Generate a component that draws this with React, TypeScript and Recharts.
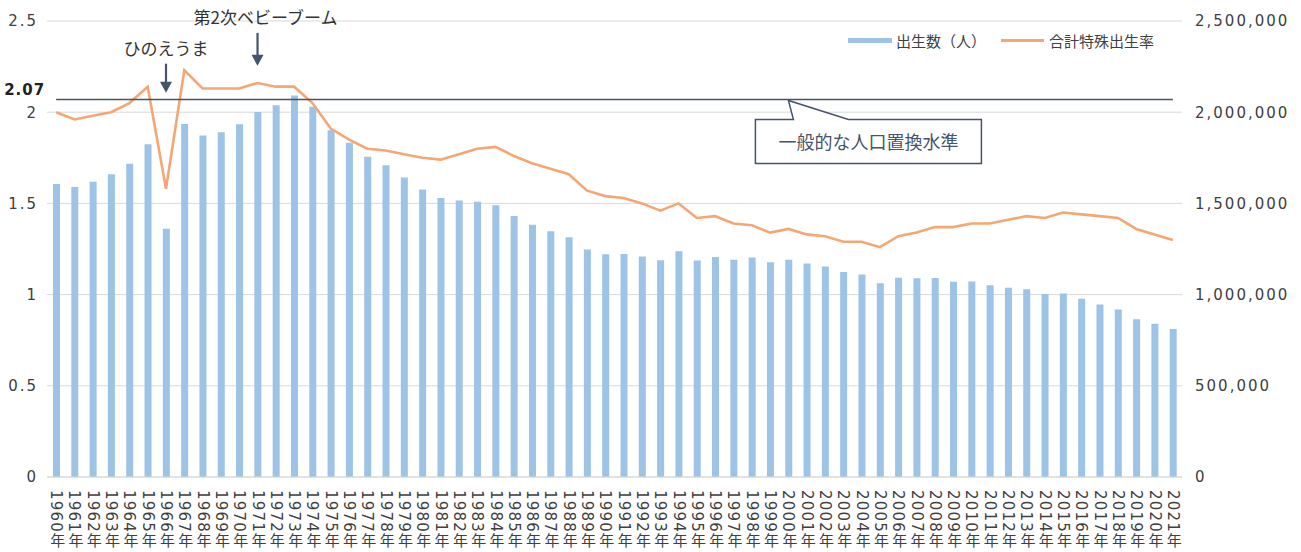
import React from "react";
import {
  ComposedChart,
  Bar,
  Line,
  XAxis,
  YAxis,
  CartesianGrid,
  ReferenceLine,
  ReferenceDot,
} from "recharts";

// 出生数と合計特殊出生率（1960〜2021年）
const years = [
  "1960年", "1961年", "1962年", "1963年", "1964年", "1965年", "1966年", "1967年", "1968年", "1969年",
  "1970年", "1971年", "1972年", "1973年", "1974年", "1975年", "1976年", "1977年", "1978年", "1979年",
  "1980年", "1981年", "1982年", "1983年", "1984年", "1985年", "1986年", "1987年", "1988年", "1989年",
  "1990年", "1991年", "1992年", "1993年", "1994年", "1995年", "1996年", "1997年", "1998年", "1999年",
  "2000年", "2001年", "2002年", "2003年", "2004年", "2005年", "2006年", "2007年", "2008年", "2009年",
  "2010年", "2011年", "2012年", "2013年", "2014年", "2015年", "2016年", "2017年", "2018年", "2019年",
  "2020年", "2021年",
];

const births = [
  1606041, 1589372, 1618616, 1659521, 1716761, 1823697, 1360974, 1935647, 1871839, 1889815,
  1934239, 2000973, 2038682, 2091983, 2029989, 1901440, 1832617, 1755100, 1708643, 1642580,
  1576889, 1529455, 1515392, 1508687, 1489780, 1431577, 1382946, 1346658, 1314006, 1246802,
  1221585, 1223245, 1208989, 1188282, 1238328, 1187064, 1206555, 1191665, 1203147, 1177669,
  1190547, 1170662, 1153855, 1123610, 1110721, 1062530, 1092674, 1089818, 1091156, 1070035,
  1071304, 1050806, 1037231, 1029816, 1003539, 1005721, 977242, 946146, 918400, 865239,
  840835, 811622,
];

const tfr = [
  2.0, 1.96, 1.98, 2.0, 2.05, 2.14, 1.58, 2.23, 2.13, 2.13,
  2.13, 2.16, 2.14, 2.14, 2.05, 1.91, 1.85, 1.8, 1.79, 1.77,
  1.75, 1.74, 1.77, 1.8, 1.81, 1.76, 1.72, 1.69, 1.66, 1.57,
  1.54, 1.53, 1.5, 1.46, 1.5, 1.42, 1.43, 1.39, 1.38, 1.34,
  1.36, 1.33, 1.32, 1.29, 1.29, 1.26, 1.32, 1.34, 1.37, 1.37,
  1.39, 1.39, 1.41, 1.43, 1.42, 1.45, 1.44, 1.43, 1.42, 1.36,
  1.33, 1.3,
];

const leftTicks = [0, 0.5, 1, 1.5, 2, 2.5];
const rightTicks = [0, 500000, 1000000, 1500000, 2000000, 2500000];
const replacementLevel = 2.07;

const data = years.map((year, i) => ({ year, births: births[i], tfr: tfr[i] }));

const BLUE = "#9DC3E6";
const ORANGE = "#F4A774";
const NAVY = "#44546A";
const GRID = "#D9D9D9";
const TEXT = "#404040";
const NUM_FONT = "'DejaVu Sans', Verdana, sans-serif";
const JP_FONT = "'Noto Sans CJK JP', sans-serif";

function YearTick({ x, y, payload }: any) {
  return (
    <text
      x={x}
      y={y + 5}
      fill={TEXT}
      fontSize={15}
      letterSpacing={1.2}
      fontFamily={`'DejaVu Sans', 'Noto Sans CJK JP', sans-serif`}
      style={{ writingMode: "vertical-rl" }}
      textAnchor="start"
    >
      {payload.value}
    </text>
  );
}

function ArrowNote({ cx, cy, text, textDx, len }: any) {
  return (
    <g>
      <text x={cx + textDx} y={cy - len - 9} fill="#333" fontSize={17} fontFamily={JP_FONT} textAnchor="middle">
        {text}
      </text>
      <line x1={cx} y1={cy - len} x2={cx} y2={cy - 9} stroke={NAVY} strokeWidth={2.2} />
      <polygon points={`${cx - 6},${cy - 11} ${cx + 6},${cy - 11} ${cx},${cy}`} fill={NAVY} />
    </g>
  );
}

function Callout({ cx, cy }: any) {
  const top = cy + 20;
  const bottom = cy + 64;
  const pts = [
    [cx - 33, top],
    [cx + 5, top],
    [cx, cy + 1],
    [cx + 60, top],
    [cx + 193, top],
    [cx + 193, bottom],
    [cx - 33, bottom],
  ]
    .map((p) => p.join(","))
    .join(" ");
  return (
    <g>
      <polygon points={pts} fill="#fff" stroke={NAVY} strokeWidth={1.5} />
      <text x={cx + 80} y={top + 22} fill={NAVY} fontSize={18} fontFamily={JP_FONT} textAnchor="middle" dominantBaseline="central">
        一般的な人口置換水準
      </text>
    </g>
  );
}

export default function App() {
  return (
    <div style={{ position: "absolute", left: 0, top: 0, width: 1301, height: 552, background: "#fff" }}>
      <ComposedChart width={1301} height={552} data={data} margin={{ top: 21, right: 0, left: 0, bottom: 0 }} barSize={7}>
        <CartesianGrid vertical={false} stroke={GRID} yAxisId="tfr" />
        <XAxis
          dataKey="year"
          interval={0}
          height={75}
          tickLine={false}
          axisLine={{ stroke: GRID }}
          tick={<YearTick />}
        />
        <YAxis
          yAxisId="tfr"
          domain={[0, 2.5]}
          ticks={leftTicks}
          width={47}
          axisLine={false}
          tickLine={false}
          tickMargin={3}
          tick={{ fill: TEXT, fontSize: 15, fontFamily: NUM_FONT, letterSpacing: 2 }}
        />
        <YAxis
          yAxisId="births"
          orientation="right"
          domain={[0, 2500000]}
          ticks={rightTicks}
          width={119}
          axisLine={false}
          tickLine={false}
          tickMargin={7}
          tickFormatter={(v: number) => v.toLocaleString("en-US")}
          tick={{ fill: TEXT, fontSize: 15, fontFamily: NUM_FONT, textAnchor: "start", letterSpacing: 2 }}
        />
        <Bar yAxisId="births" dataKey="births" name="出生数（人）" fill={BLUE} isAnimationActive={false} />
        <Line
          yAxisId="tfr"
          type="linear"
          dataKey="tfr"
          name="合計特殊出生率"
          stroke={ORANGE}
          strokeWidth={2.6}
          dot={false}
          isAnimationActive={false}
        />
        <ReferenceLine
          yAxisId="tfr"
          segment={[
            { x: years[0], y: replacementLevel },
            { x: years[years.length - 1], y: replacementLevel },
          ]}
          stroke={NAVY}
          strokeWidth={1.5}
          label={(props: any) => {
            const vb = props.viewBox || {};
            return (
              <text x={vb.x - 11} y={vb.y - 9} fill="#222" fontSize={15} fontWeight={600} letterSpacing={1} fontFamily={NUM_FONT} textAnchor="end" dominantBaseline="central">
                {replacementLevel}
              </text>
            );
          }}
        />
        <ReferenceDot yAxisId="tfr" x="2000年" y={replacementLevel} shape={(p: any) => <Callout {...p} />} />
        <ReferenceDot
          yAxisId="tfr"
          x="1966年"
          y={2.107}
          shape={(p: any) => <ArrowNote {...p} text="ひのえうま" textDx={0} len={29} />}
        />
        <ReferenceDot
          yAxisId="tfr"
          x="1971年"
          y={2.254}
          shape={(p: any) => <ArrowNote {...p} text="第2次ベビーブーム" textDx={8} len={33} />}
        />
      </ComposedChart>
      <div
        style={{
          position: "absolute",
          left: 848,
          top: 30,
          display: "flex",
          alignItems: "center",
          fontFamily: JP_FONT,
          fontSize: 15,
          color: TEXT,
          whiteSpace: "nowrap",
        }}
      >
        <span style={{ width: 44, height: 5, background: BLUE, marginRight: 4 }} />
        <span>出生数（人）</span>
        <span style={{ width: 43, height: 2.6, background: ORANGE, marginLeft: 15, marginRight: 5 }} />
        <span>合計特殊出生率</span>
      </div>
    </div>
  );
}
